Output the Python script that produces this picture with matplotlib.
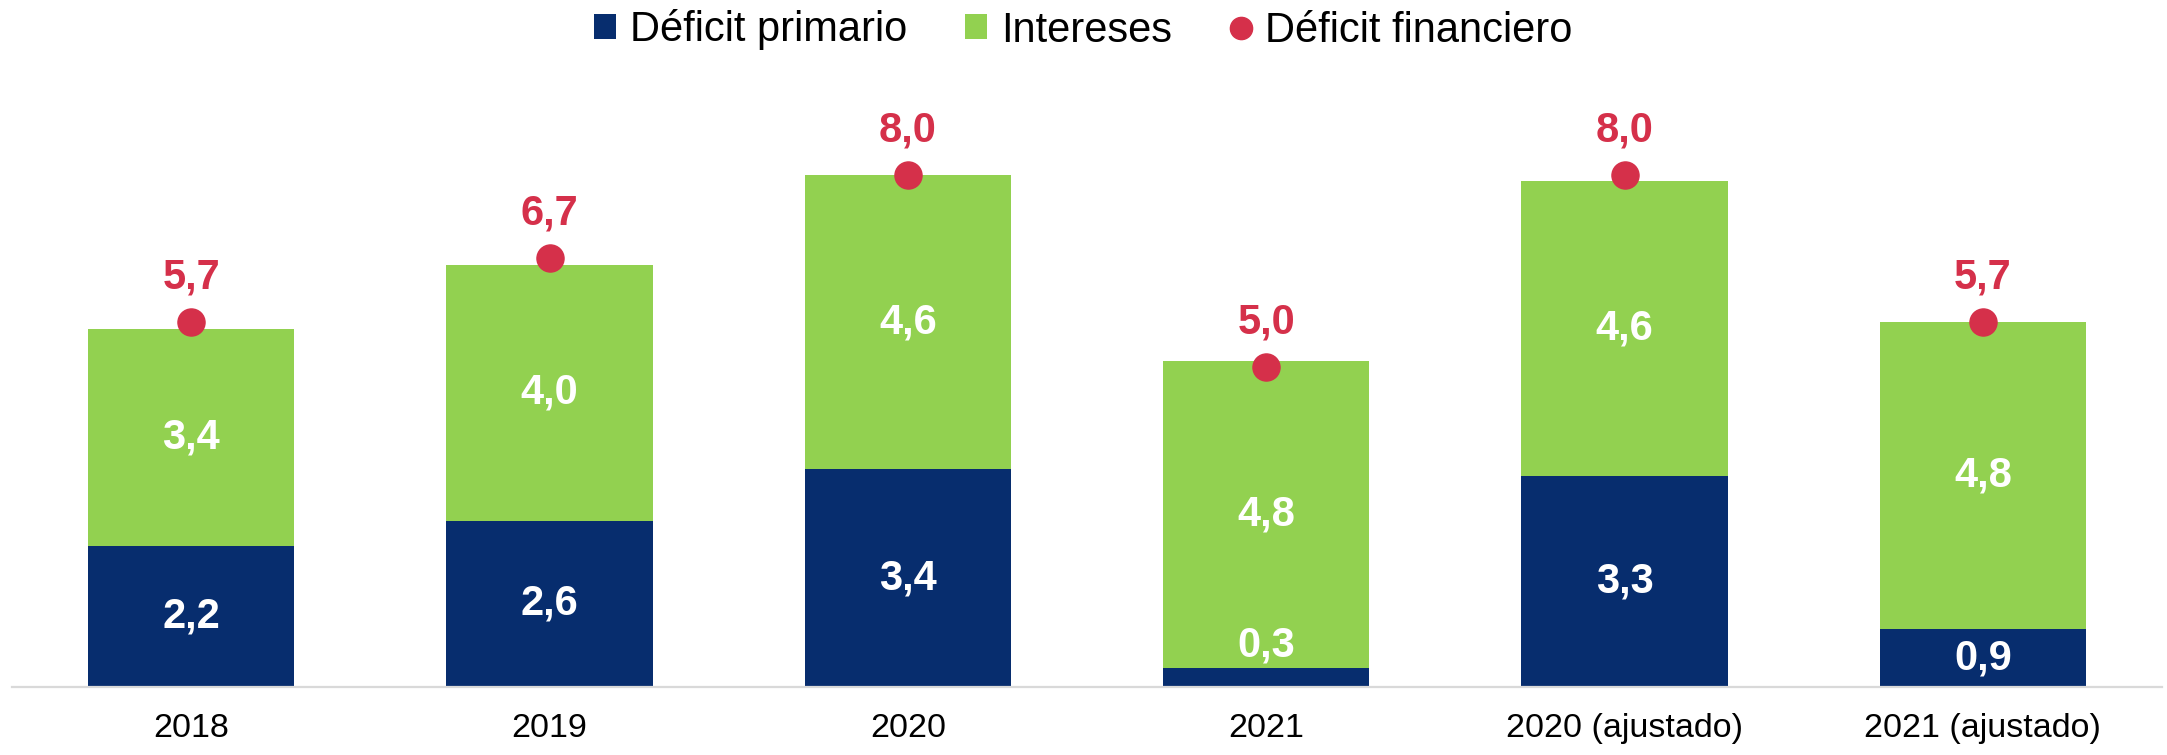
import numpy as np
import matplotlib.pyplot as plt
from matplotlib.lines import Line2D
from matplotlib.patches import Patch

plt.rcParams['font.family'] = ['Liberation Sans', 'DejaVu Sans']

categories = ['2018', '2019', '2020', '2021', '2020 (ajustado)', '2021 (ajustado)']
deficit_primario = [2.2, 2.6, 3.4, 0.3, 3.3, 0.9]
intereses = [3.4, 4.0, 4.6, 4.8, 4.6, 4.8]
deficit_financiero = [5.7, 6.7, 8.0, 5.0, 8.0, 5.7]

c_blue = '#072D6E'
c_green = '#92D150'
c_red = '#D5304A'

fig = plt.figure(figsize=(21.67, 7.55), dpi=100)
ax = fig.add_axes([12 / 2167, 68 / 755, 2150 / 2167, 627 / 755])

x = np.arange(len(categories))
w = 0.575

ax.bar(x, deficit_primario, width=w, color=c_blue, zorder=2)
ax.bar(x, intereses, width=w, bottom=deficit_primario, color=c_green, zorder=2)
ax.plot(x, deficit_financiero, 'o', color=c_red, markersize=19.5, zorder=4)


def fmt(v):
    return f'{v:.1f}'.replace('.', ',')


lbl = dict(ha='center', va='center', color='white', fontsize=30, fontweight='bold', zorder=5)
for i in range(len(x)):
    p, it = deficit_primario[i], intereses[i]
    if p < 0.6:
        # small primary deficit: label sits just above the blue sliver
        ax.text(x[i], p + 0.35, fmt(p), **lbl)
    else:
        ax.text(x[i], p / 2, fmt(p), **lbl)
    ax.text(x[i], p + it / 2, fmt(it), **lbl)
    ax.annotate(fmt(deficit_financiero[i]), (x[i], deficit_financiero[i]),
                xytext=(0, 24), textcoords='offset points', ha='center',
                va='baseline', color=c_red, fontsize=30, fontweight='bold')

ax.set_xlim(-0.5, len(x) - 0.5)
ax.set_ylim(0, 627 / 64)
ax.set_xticks(x)
ax.set_xticklabels(categories, fontsize=24.5)
ax.tick_params(axis='x', length=0, pad=19)
ax.set_yticks([])
for s in ['top', 'right', 'left']:
    ax.spines[s].set_visible(False)
ax.spines['bottom'].set_color('#D9D9D9')
ax.spines['bottom'].set_linewidth(1.6)

handles = [
    Patch(facecolor=c_blue, label='Déficit primario'),
    Patch(facecolor=c_green, label='Intereses'),
    Line2D([], [], marker='o', linestyle='none', color=c_red, markersize=16,
           label='Déficit financiero'),
]
fig.legend(handles=handles, loc='center', bbox_to_anchor=(0.5, 1 - 30 / 755),
           ncol=3, frameon=False, fontsize=30, handlelength=0.53,
           handleheight=0.53, handletextpad=0.32, columnspacing=1.4)

fig.savefig('out.png', dpi=100)
